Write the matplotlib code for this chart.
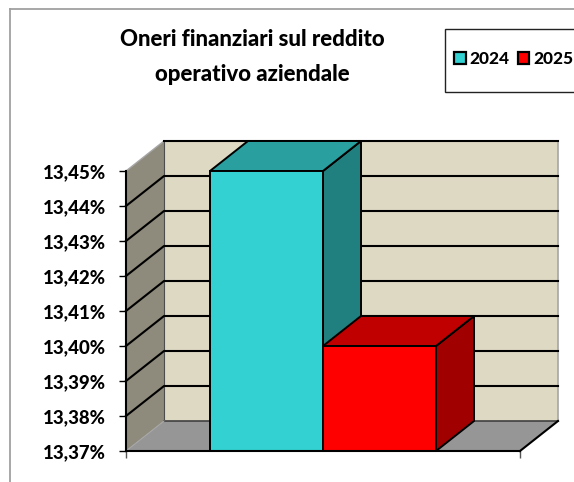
import matplotlib
matplotlib.use('Agg')
import matplotlib.pyplot as plt
from matplotlib.patches import Polygon, Rectangle

plt.rcParams['font.family'] = ['Lato', 'DejaVu Sans']

years = ['2024', '2025']
values = [13.45, 13.40]
tick_values = [13.37, 13.38, 13.39, 13.40, 13.41, 13.42, 13.43, 13.44, 13.45]
tick_labels = ['13,37%', '13,38%', '13,39%', '13,40%', '13,41%', '13,42%', '13,43%', '13,44%', '13,45%']

W, H = 574, 482
front = '#33D1D1', '#FF0000'
side = '#208080', '#A00000'
top = '#299F9F', '#C00000'

fig = plt.figure(figsize=(W / 100, H / 100), dpi=100)
# axes = front plane of the 3d box
ax = fig.add_axes([126 / W, 1 - 451 / H, 394 / W, 280 / H])
ax.set_xlim(-0.743, 2.743)
ax.set_ylim(13.37, 13.45)
ax.patch.set_alpha(0)

# depth offset of the box, in data units
dx = 38 / 113
dy = 0.01 * 30 / 35
x0, x1 = ax.get_xlim()
y0, y1 = ax.get_ylim()


def poly(pts, fc, ec='none', lw=0, z=1):
    ax.add_patch(Polygon(pts, closed=True, fc=fc, ec=ec, lw=lw, zorder=z, clip_on=False, joinstyle='round'))


# back wall, left wall, floor
poly([(x0 + dx, y0 + dy), (x1 + dx, y0 + dy), (x1 + dx, y1 + dy), (x0 + dx, y1 + dy)], '#DDD9C3', z=1)
poly([(x0, y0), (x0 + dx, y0 + dy), (x0 + dx, y1 + dy), (x0, y1)], '#8E8B7C', z=1)
poly([(x0, y0), (x1, y0), (x1 + dx, y0 + dy), (x0 + dx, y0 + dy)], '#969696', z=1)

# wall edges
ax.plot([x1 + dx, x1 + dx], [y0 + dy, y1 + dy], color='#A6A6A6', lw=1.2, zorder=2, clip_on=False)
ax.plot([x0 + dx, x0 + dx], [y0 + dy, y1 + dy], color='#4D4D4D', lw=0.8, zorder=2, clip_on=False)
ax.plot([x0 + dx, x1 + dx], [y0 + dy, y0 + dy], color='#404040', lw=1.2, zorder=2, clip_on=False)
ax.plot([x0, x0 + dx], [y1, y1 + dy], color='#A6A6A6', lw=1, zorder=2, clip_on=False)
ax.plot([x0, x0 + dx], [y0, y0 + dy], color='#A6A6A6', lw=0.8, zorder=2, clip_on=False)
ax.plot([x1, x1 + dx], [y0, y0 + dy], color='black', lw=1.5, zorder=2, clip_on=False)
ax.plot([x0 + dx, x1 + dx], [y1 + dy, y1 + dy], color='black', lw=1.5, zorder=2, clip_on=False)

# gridlines
for v in tick_values[1:-1]:
    ax.plot([x0, x0 + dx, x1 + dx], [v, v + dy, v + dy], color='black', lw=1.5, zorder=2, clip_on=False)

# bars, drawn left to right so the right one sits on top
for i, v in enumerate(values):
    ax.bar(i, v - y0, bottom=y0, width=1, align='edge', color=front[i], edgecolor='black', lw=1.4, zorder=5 + i, clip_on=False)
    poly([(i + 1, y0), (i + 1 + dx, y0 + dy), (i + 1 + dx, v + dy), (i + 1, v)], side[i], 'black', 1.4, 4 + i)
    poly([(i, v), (i + dx, v + dy), (i + 1 + dx, v + dy), (i + 1, v)], top[i], 'black', 1.4, 4 + i)

ax.spines[['top', 'right']].set_visible(False)
ax.spines['left'].set_linewidth(1.5)
ax.spines['bottom'].set_linewidth(1.5)
ax.spines['left'].set_zorder(8)
ax.spines['bottom'].set_zorder(8)
ax.set_yticks(tick_values)
ax.set_yticklabels(tick_labels, fontsize=13.4, fontweight='black')
ax.set_xticks([x0, x1])
ax.set_xticklabels(['', ''])
ax.tick_params(axis='y', length=5, width=1, pad=9.5)
ax.tick_params(axis='x', length=5, width=1, color='#555555')

# title
fig.text(252 / W, 1 - 57 / H, 'Oneri finanziari sul reddito\noperativo aziendale', ha='center', va='center',
         fontsize=16, fontweight='black', linespacing=1.78)

# chart area border, only left and top are inside the crop
fig.add_artist(plt.Line2D([10 / W, 10 / W], [0, 1 - 9 / H], color='#A0A0A0', lw=1.3))
fig.add_artist(plt.Line2D([10 / W, 1], [1 - 9 / H, 1 - 9 / H], color='#A0A0A0', lw=1.3))

# legend box runs off the right edge
fig.add_artist(Rectangle((445 / W, 1 - 91.5 / H), 140 / W, 63 / H, transform=fig.transFigure, fc='white', ec='#222222', lw=1))
handles = [Rectangle((0, 0), 1, 1, fc=front[i], ec='black', lw=1.6) for i in range(2)]
fig.legend(handles, years, ncol=2, loc='center left', bbox_to_anchor=(454 / W, 1 - 59 / H), frameon=False,
           prop={'size': 12.4, 'weight': 'black'}, handlelength=0.68, handleheight=0.68, handletextpad=0.2,
           columnspacing=0.5, borderaxespad=0, borderpad=0)

fig.savefig('out.png', dpi=100)
